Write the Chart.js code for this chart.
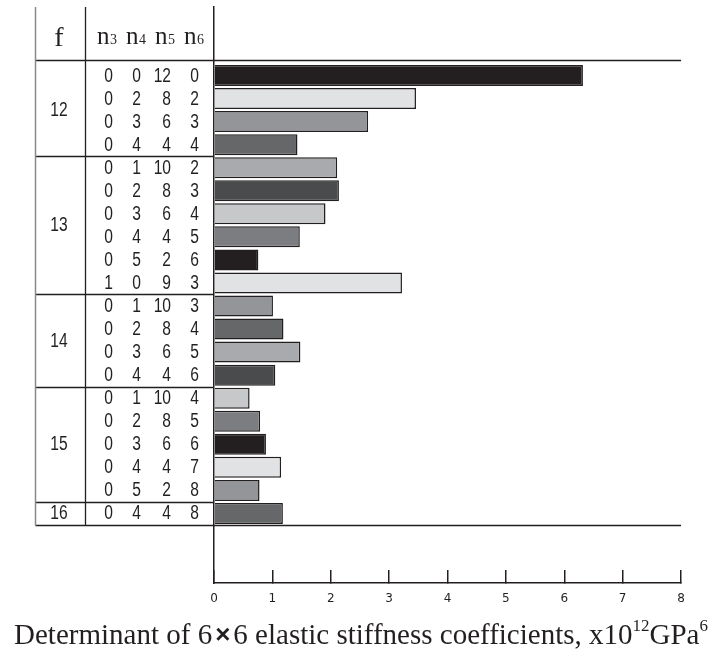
<!DOCTYPE html>
<html><head><meta charset="utf-8">
<script src="https://cdn.jsdelivr.net/npm/chart.js@4"></script>
<style>html,body{margin:0;padding:0;background:#fff}#wrap{width:711px;height:650px}</style>
</head><body><div id="wrap"><canvas id="c" width="711" height="650"></canvas></div>
<script>
// ---- data ----
const fGroup = [12,12,12,12, 13,13,13,13,13,13, 14,14,14,14, 15,15,15,15,15, 16];
const n3 = [0,0,0,0, 0,0,0,0,0,1, 0,0,0,0, 0,0,0,0,0, 0];
const n4 = [0,2,3,4, 1,2,3,4,5,0, 1,2,3,4, 1,2,3,4,5, 4];
const n5 = [12,8,6,4, 10,8,6,4,2,9, 10,8,6,4, 10,8,6,4,2, 4];
const n6 = [0,2,3,4, 2,3,4,5,6,3, 3,4,5,6, 4,5,6,7,8, 8];
const determinant = [6.32,3.46,2.64,1.43, 2.11,2.14,1.91,1.47,0.76,3.22, 1.01,1.19,1.48,1.05, 0.61,0.79,0.89,1.15,0.78, 1.18];
const xTicks = [0,1,2,3,4,5,6,7,8];
const headerLabels = ['3','4','5','6'];
const titleParts = ['Determinant of 6', '\u00D7', '6 elastic stiffness coefficients, x10', '12', 'GPa', '6'];

// ---- styles ----
const palette = ['#231f20','#e1e2e4','#939598','#666769','#a8aaad','#4a4b4d','#c7c8ca','#7c7d80'];
const INK = '#231f20';

const tablePlugin = {
  id: 'table',
  afterDraw(chart) {
    const c = chart.ctx, ys = chart.scales.y;
    const ca = chart.chartArea;
    const yy = v => ys.getPixelForValue(v);
    const leftX = 35.5, fColX = 85.5, axX = ca.left;
    const headerY = 60.5;
    const nRows = determinant.length;
    const bottomY = Math.round(yy(nRows - 0.5)) + 0.5;
    c.save();
    // lines
    c.lineWidth = 1.3;
    c.strokeStyle = INK;
    c.beginPath();
    c.moveTo(leftX, headerY); c.lineTo(ca.right, headerY);
    c.moveTo(leftX, bottomY); c.lineTo(ca.right, bottomY);
    for (let i = 1; i < nRows; i++) {
      if (fGroup[i] !== fGroup[i-1]) {
        const gy = Math.round(yy(i - 0.5)) + 0.5;
        c.moveTo(leftX, gy); c.lineTo(axX, gy);
      }
    }
    c.moveTo(fColX, ca.top); c.lineTo(fColX, bottomY);
    c.stroke();
    c.strokeStyle = '#8a8a8c';
    c.lineWidth = 1.5;
    c.beginPath();
    c.moveTo(leftX, ca.top); c.lineTo(leftX, bottomY);
    c.stroke();

    // header
    c.fillStyle = INK;
    c.textBaseline = 'alphabetic';
    c.textAlign = 'center';
    c.font = '28px "Liberation Serif"';
    c.fillText('f', 59, 46);
    c.textAlign = 'left';
    const nx = [97, 126, 155, 184];
    headerLabels.forEach((s, k) => {
      c.font = '25px "Liberation Serif"';
      c.fillText('n', nx[k], 44);
      const w = c.measureText('n').width;
      c.font = '14px "Liberation Serif"';
      c.fillText(s, nx[k] + w + 0.5, 44);
    });

    // row digits (condensed sans)
    const cond = (txt, x, y, align) => {
      c.save();
      c.translate(x, y);
      c.scale(0.78, 1);
      c.textAlign = align;
      c.fillText(txt, 0, 0);
      c.restore();
    };
    c.font = '20px "Liberation Sans"';
    c.textBaseline = 'middle';
    const colRight = [113, 141, 171, 199];
    for (let i = 0; i < nRows; i++) {
      const ry = yy(i) + 0.5;
      [n3, n4, n5, n6].forEach((arr, k) => cond(String(arr[i]), colRight[k], ry, 'right'));
    }
    // group labels
    let start = 0;
    for (let i = 1; i <= nRows; i++) {
      if (i === nRows || fGroup[i] !== fGroup[start]) {
        const gy = (yy(start) + yy(i - 1)) / 2 + 0.5;
        cond(String(fGroup[start]), 59, gy, 'center');
        start = i;
      }
    }

    // title with superscripts
    const mainF = '29px "Liberation Serif"', supF = '17px "Liberation Serif"', xF = 'bold 26px "Liberation Sans"';
    const fonts = [mainF, xF, mainF, supF, mainF, supF];
    const gaps = [3, 3, 0, 0, 0, 0];
    let total = 0;
    const widths = titleParts.map((t, k) => { c.font = fonts[k]; const w = c.measureText(t).width; total += w + gaps[k]; return w; });
    let tx = 361 - total / 2;
    const base = 644;
    c.textBaseline = 'alphabetic';
    c.textAlign = 'left';
    titleParts.forEach((t, k) => {
      c.font = fonts[k];
      const lift = (fonts[k] === supF) ? 13 : (fonts[k] === xF ? 1 : 0);
      c.fillText(t, tx, base - lift);
      tx += widths[k] + gaps[k];
    });
    c.restore();
  }
};

const ctx = document.getElementById('c').getContext('2d');
new Chart(ctx, {
  type: 'bar',
  data: {
    datasets: [{
      data: determinant.map((v, i) => ({ x: v, y: i })),
      backgroundColor: determinant.map((v, i) => palette[i % palette.length]),
      borderColor: INK,
      borderWidth: 1.5,
      barPercentage: 0.91,
      categoryPercentage: 1
    }]
  },
  options: {
    indexAxis: 'y',
    responsive: false,
    animation: false,
    devicePixelRatio: 1,
    layout: { padding: { left: 214, right: 30, top: 7, bottom: 0 } },
    plugins: { legend: { display: false }, tooltip: { enabled: false } },
    scales: {
      x: {
        type: 'linear', min: 0, max: 8,
        afterBuildTicks: s => { s.ticks = xTicks.map(v => ({ value: v })); },
        grid: { drawOnChartArea: false, drawTicks: true, tickLength: -13, color: INK, lineWidth: 1.5 },
        border: { display: true, color: INK, width: 1.5 },
        ticks: { padding: 22, color: INK, font: { family: 'DejaVu Sans', size: 12 }, maxRotation: 0, autoSkip: false },
        afterFit: s => { s.height = 67; }
      },
      y: {
        type: 'linear', reverse: true, min: -2.972, max: 22.017,
        offset: false,
        ticks: { display: false },
        grid: { offset: false, drawOnChartArea: false, drawTicks: false },
        border: { display: true, color: INK, width: 1.5 },
        afterFit: s => { s.width = 0; }
      }
    }
  },
  plugins: [tablePlugin]
});
</script>
</body></html>
